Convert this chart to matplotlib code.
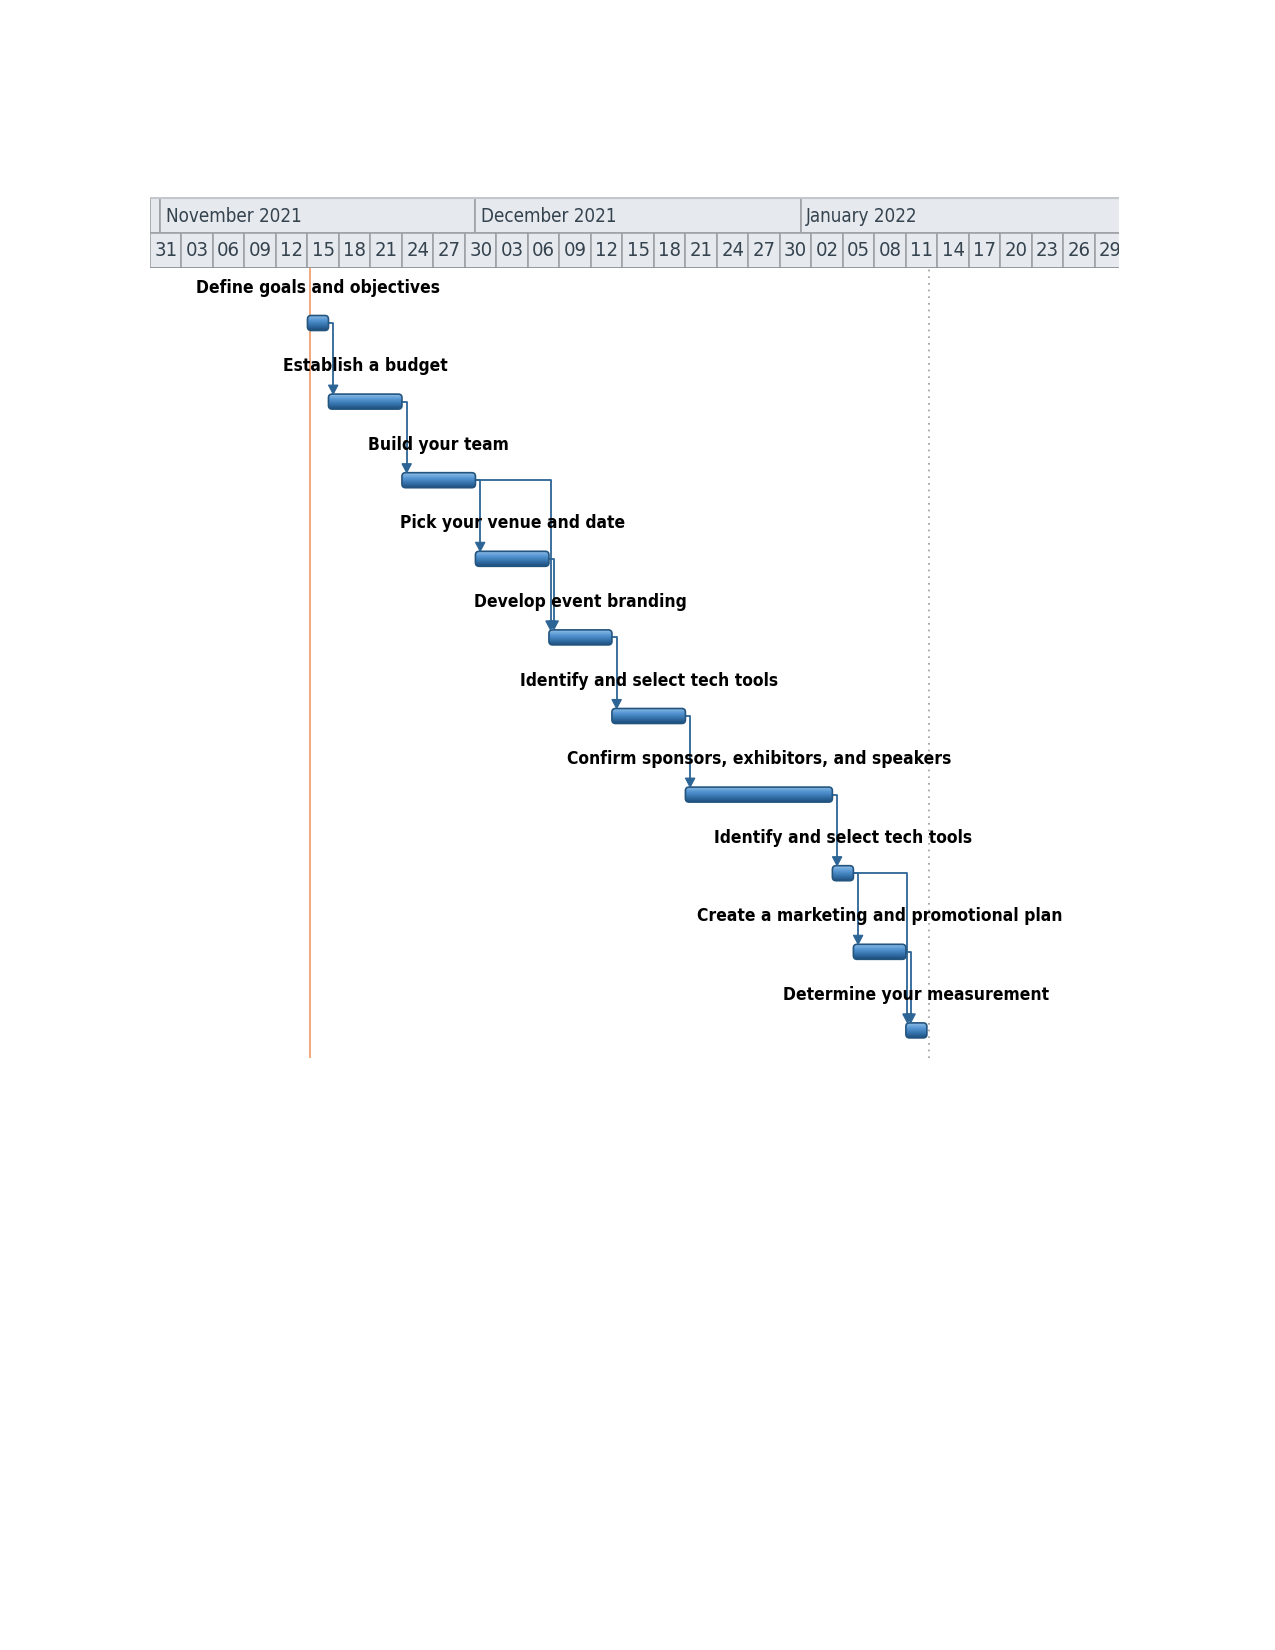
import datetime as dt
import matplotlib
matplotlib.use("Agg")
import matplotlib.pyplot as plt
from matplotlib.patches import FancyBboxPatch, Rectangle, Polygon
from matplotlib.colors import LinearSegmentedColormap
import numpy as np

# task list
tasks = ["Define goals and objectives",
         "Establish a budget",
         "Build your team",
         "Pick your venue and date",
         "Develop event branding",
         "Identify and select tech tools",
         "Confirm sponsors, exhibitors, and speakers",
         "Identify and select tech tools",
         "Create a marketing and promotional plan",
         "Determine your measurement"]
starts = ["2021-11-15", "2021-11-17", "2021-11-24", "2021-12-01", "2021-12-08",
          "2021-12-14", "2021-12-21", "2022-01-04", "2022-01-06", "2022-01-11"]
durations = [2, 7, 7, 7, 6, 7, 14, 2, 5, 2]
# predecessor -> successor
links = [(0, 1), (1, 2), (2, 3), (2, 4), (3, 4), (4, 5), (5, 6),
         (6, 7), (7, 8), (7, 9), (8, 9)]

timeline_start = "2021-10-31"
timeline_days = 92.3
tick_step = 3
month_labels = ["November 2021", "December 2021", "January 2022"]
month_starts = ["2021-11-01", "2021-12-01", "2022-01-01"]
current_date = "2021-11-15"
project_finish = "2022-01-13"

plt.rcParams['font.family'] = ['DejaVu Sans']
plt.rcParams['font.stretch'] = 'condensed'

base = dt.date.fromisoformat(timeline_start)


def day(s):
    return (dt.date.fromisoformat(s) - base).days


W, H = 1275, 1650
fig = plt.figure(figsize=(W / 100, H / 100), dpi=100)
fig.patch.set_facecolor('white')

left_px, right_px = 150, 1119
hdr_top, hdr_mid, hdr_bot = 197, 233, 268
chart_bot = 1058
row_gap = 78.6
first_row = 323

# ---------- header (timescale) ----------
hax = fig.add_axes([left_px / W, 1 - hdr_bot / H, (right_px - left_px) / W, (hdr_bot - hdr_top) / H])
hax.set_xlim(0, timeline_days)
hax.set_ylim(2, 0)
hax.axis('off')
hdr_face = '#e6e9ed'
hdr_edge = '#9ea3a8'
txt_col = '#35434f'

bounds = [0] + [day(m) for m in month_starts] + [timeline_days + 5]
for i in range(len(bounds) - 1):
    hax.add_patch(Rectangle((bounds[i], 0), bounds[i + 1] - bounds[i], 1,
                            facecolor=hdr_face, edgecolor=hdr_edge, lw=1.2))
for lab, m in zip(month_labels, month_starts):
    hax.text(day(m) + 0.5, 0.54, lab, ha='left', va='center', fontsize=13.5,
             color=txt_col, fontstretch='condensed')

for d0 in range(0, int(timeline_days) + tick_step, tick_step):
    hax.add_patch(Rectangle((d0, 1), tick_step, 1, facecolor=hdr_face,
                            edgecolor=hdr_edge, lw=1.2))
    lab = (base + dt.timedelta(days=d0)).strftime('%d')
    t = hax.text(d0 + tick_step / 2, 1.52, lab, ha='center', va='center',
                 fontsize=14.5, color=txt_col, fontstretch='condensed')
    t.set_clip_on(True)
hax.axhline(0, color='#c3c7cb', lw=3)
hax.axhline(2, color='#8f959a', lw=1.2)

# ---------- chart ----------
ax = fig.add_axes([left_px / W, 1 - chart_bot / H, (right_px - left_px) / W, (chart_bot - hdr_bot) / H])
ax.axis('off')
y_top = -(first_row - hdr_bot) / row_gap
y_bot = len(tasks) - 1 + (chart_bot - first_row - (len(tasks) - 1) * row_gap) / row_gap

px_day = (right_px - left_px) / timeline_days
bar_h = 15 / row_gap
aspect = px_day / row_gap

ax.axvline(day(current_date) + 0.2, color='#f0a070', lw=1.3, zorder=1)
ax.axvline(day(project_finish) + 0.2, color='#9a9a9a', lw=1.2, ls=(0, (1, 3)), zorder=1)

cmap = LinearSegmentedColormap.from_list('bar', ['#8fbde6', '#5596d2', '#3673ad', '#1d4f7c'])
grad = np.linspace(0, 1, 64).reshape(-1, 1)

for i, (name, s, d) in enumerate(zip(tasks, starts, durations)):
    x0 = day(s)
    patch = FancyBboxPatch((x0, i - bar_h / 2), d, bar_h,
                           boxstyle='round,pad=0,rounding_size=0.35',
                           mutation_aspect=aspect,
                           facecolor='none', edgecolor='#24557f', lw=1.2, zorder=4)
    ax.add_patch(patch)
    im = ax.imshow(grad, extent=(x0, x0 + d, i + bar_h / 2, i - bar_h / 2),
                   cmap=cmap, aspect='auto', zorder=3)
    im.set_clip_path(patch)
    ax.text(x0 + d / 2, i - 0.45, name, ha='center', va='center',
            fontsize=12.5, fontweight='bold', fontstretch='condensed',
            color='black', zorder=5)

link_col = '#2c6495'
arr_w = 0.45
arr_h = 9 / row_gap
for p, q in links:
    x_end = day(starts[p]) + durations[p]
    x_succ = day(starts[q])
    if x_succ > x_end + 0.5:
        vx = x_succ + 0.15
    else:
        vx = x_end + 0.45
    y_hit = q - bar_h / 2
    ax.plot([x_end, vx, vx], [p, p, y_hit - arr_h], color=link_col, lw=1.3, zorder=2,
            solid_joinstyle='round')
    ax.add_patch(Polygon([(vx - arr_w, y_hit - arr_h), (vx + arr_w, y_hit - arr_h), (vx, y_hit)],
                         closed=True, facecolor=link_col, edgecolor=link_col, lw=0.8, zorder=5))

ax.set_xlim(0, timeline_days)
ax.set_ylim(y_bot, y_top)

fig.savefig('out.png', dpi=100, facecolor='white')
